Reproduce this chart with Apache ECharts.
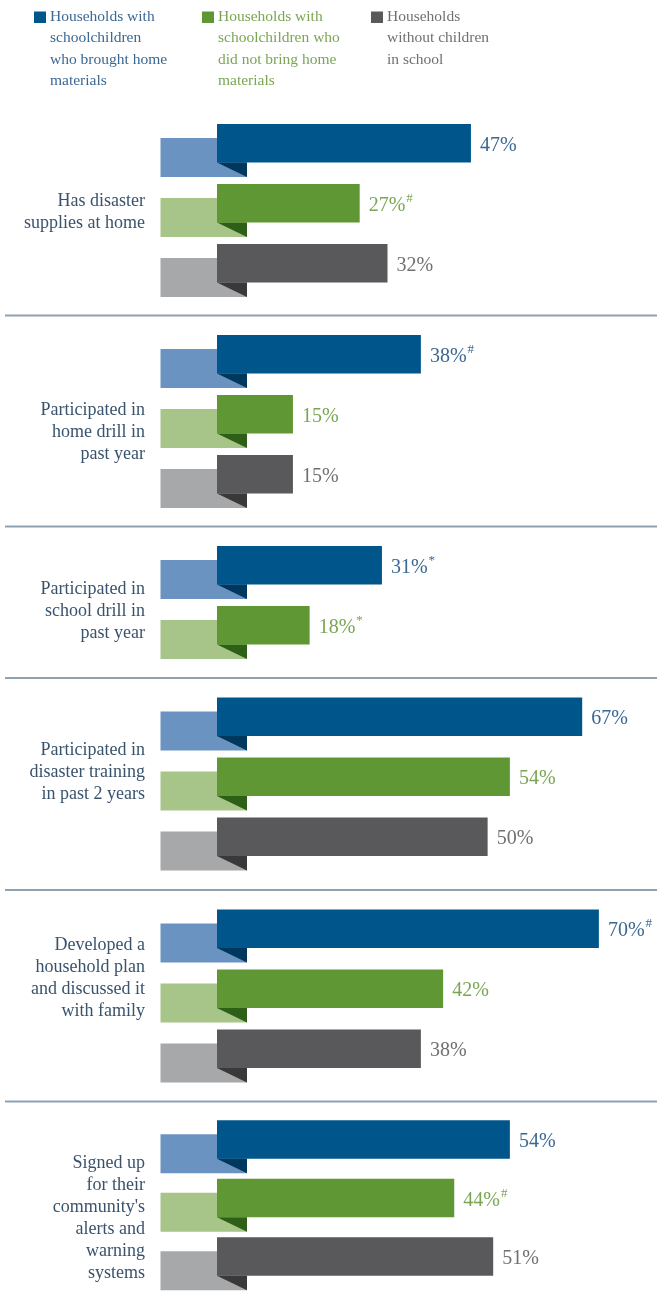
<!DOCTYPE html>
<html>
<head>
<meta charset="utf-8">
<script src="https://cdn.jsdelivr.net/npm/echarts@6/dist/echarts.min.js"></script>
<style>
html,body{margin:0;padding:0;background:#fff;}
#chart{width:657px;height:1293px;}
</style>
</head>
<body>
<div id="chart"></div>
<script>
// ---------- data ----------
const groupLabels = [
  'Has disaster\nsupplies at home',
  'Participated in\nhome drill in\npast year',
  'Participated in\nschool drill in\npast year',
  'Participated in\ndisaster training\nin past 2 years',
  'Developed a\nhousehold plan\nand discussed it\nwith family',
  'Signed up\nfor their\ncommunity\'s\nalerts and\nwarning\nsystems'
];
const seriesNames = [
  'Households with\nschoolchildren\nwho brought home\nmaterials',
  'Households with\nschoolchildren who\ndid not bring home\nmaterials',
  'Households\nwithout children\nin school'
];
const blueValues  = [47, 38, 31, 67, 70, 54];
const greenValues = [27, 15, 18, 54, 42, 44];
const greyValues  = [32, 15, null, 50, 38, 51];
const blueMarks  = ['', '#', '*', '', '#', ''];
const greenMarks = ['#', '', '*', '', '', '#'];
const greyMarks  = ['', '', '', '', '', ''];

// ---------- styles / layout ----------
const FONT = '"Liberation Serif", "DejaVu Serif", serif';
const PALETTE = [
  {main:'#00558B', light:'#6B93C2', dark:'#00375C', text:'#3B6892'},
  {main:'#5E9733', light:'#A7C489', dark:'#2E5F17', text:'#7AA653'},
  {main:'#59595B', light:'#A7A8AA', dark:'#39393A', text:'#707070'}
];
const GRID_TOPS = [120.5, 331.5, 542.5, 694, 906, 1117.5];
const LABEL_DY = [2, 11, 9, -11.5, -17.5, 11];
const ROW_H = 60;
const AXIS_LEFT = 209.5;
const AXIS_W = 445;
const AXIS_MAX = 80;

const allValues = [blueValues, greenValues, greyValues];
const allMarks = [blueMarks, greenMarks, greyMarks];

function makeRenderer(marks) {
  return function (params, api) {
    const v = api.value(0);
    const row = api.value(1);
    const ci = api.value(2);
    const mark = marks[params.dataIndex] || '';
    const end = api.coord([v, row]);
    const org = api.coord([0, row]);
    const c = end[1];
    const x0 = org[0];
    const col = PALETTE[ci];
    const mainL = x0 + 7.5;
    return {
      type: 'group',
      children: [
        {type:'rect', shape:{x:x0 - 49, y:c - 12.5, width:86.5, height:39}, style:{fill:col.light}},
        {type:'polygon', shape:{points:[[mainL, c + 12], [x0 + 37.5, c + 12], [x0 + 37.5, c + 26.5]]}, style:{fill:col.dark}},
        {type:'rect', shape:{x:mainL, y:c - 26.5, width:end[0] - mainL, height:38.5}, style:{fill:col.main}},
        {type:'text', x:end[0] + 9, y:c - 5, style:{
          text: '{v|' + v + '%}' + (mark ? '{s|' + mark + '}' : ''),
          verticalAlign:'middle', align:'left',
          rich:{
            v:{fontFamily:FONT, fontSize:20, fill:col.text},
            s:{fontFamily:FONT, fontSize:13, fill:col.text, padding:[0,0,14,1]}
          }
        }}
      ]
    };
  };
}

const grids = [], xAxes = [], yAxes = [], series = [], graphic = [];
groupLabels.forEach((label, g) => {
  const data = [], marks = [];
  allValues.forEach((vals, s) => {
    if (vals[g] != null) {
      data.push([vals[g], data.length, s]);
      marks.push(allMarks[s][g]);
    }
  });
  const n = data.length;
  grids.push({left:AXIS_LEFT, width:AXIS_W, top:GRID_TOPS[g], height:n * ROW_H, containLabel:false});
  xAxes.push({type:'value', gridIndex:g, min:0, max:AXIS_MAX, show:false});
  yAxes.push({
    type:'category', gridIndex:g, inverse:true,
    data: data.map((d, i) => String(i)),
    axisLine:{show:false}, axisTick:{show:false}, axisLabel:{show:false}, splitLine:{show:false}
  });
  series.push({
    type:'custom', xAxisIndex:g, yAxisIndex:g,
    renderItem: makeRenderer(marks),
    encode:{x:0, y:1},
    data: data,
    clip:false, silent:true
  });
  graphic.push({type:'text', x:145, y:GRID_TOPS[g] + n * ROW_H / 2 + LABEL_DY[g], style:{
    text:label, font:'18px ' + FONT, fill:'#3A536D', lineHeight:22, align:'right', verticalAlign:'middle'
  }});
});

// legend (graphic) and separators
const legendX = [34, 202, 371];
seriesNames.forEach((name, i) => {
  graphic.push({type:'rect', x:legendX[i], y:11.5, shape:{width:12, height:11.5}, style:{fill:PALETTE[i].main}});
  graphic.push({type:'text', x:legendX[i] + 16, y:6, style:{
    text:name, font:'15.5px ' + FONT, fill:PALETTE[i].text, lineHeight:21.5, verticalAlign:'top'
  }});
});
for (let g = 1; g < GRID_TOPS.length; g++) {
  const y = GRID_TOPS[g] - 16;
  graphic.push({type:'line', shape:{x1:5, y1:y, x2:657, y2:y}, style:{stroke:'#8FA2B2', lineWidth:2}});
}

const chart = echarts.init(document.getElementById('chart'));
chart.setOption({
  backgroundColor:'#ffffff',
  animation:false,
  grid: grids,
  xAxis: xAxes,
  yAxis: yAxes,
  series: series,
  graphic: graphic
});
</script>
</body>
</html>
